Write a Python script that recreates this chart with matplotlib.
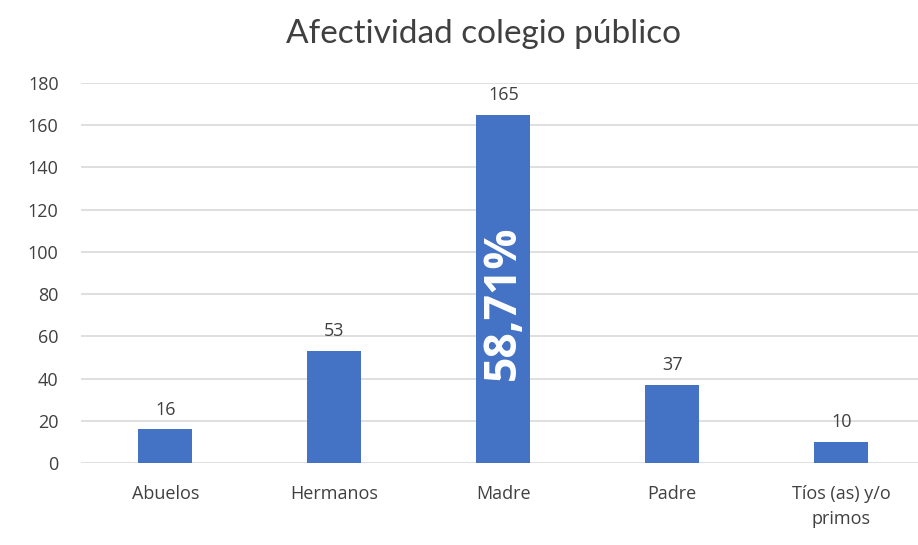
import matplotlib.pyplot as plt
import numpy as np

categories = ['Abuelos', 'Hermanos', 'Madre', 'Padre', 'Tíos (as) y/o\nprimos']
values = [16, 53, 165, 37, 10]
yticks = [0, 20, 40, 60, 80, 100, 120, 140, 160, 180]
madre_pct = '58,71%'

plt.rcParams['font.family'] = ['Open Sans', 'DejaVu Sans']

fig = plt.figure(figsize=(9.18, 5.45), dpi=100)
ax = fig.add_axes([0.088, 0.1505, 0.9205, 0.6975])

x = np.arange(len(categories))
bars = ax.bar(x, values, width=0.32, color='#4472C4', zorder=3)

# value labels on top of each bar
for b, v in zip(bars, values):
    ax.text(b.get_x() + b.get_width() / 2, v + 5, str(v),
            ha='center', va='bottom', fontsize=13, color='#404040')

# percentage written inside the Madre bar
ax.text(x[2], 76, madre_pct, rotation=90, ha='center', va='center',
        fontsize=32, fontweight='bold', color='white', zorder=4)

ax.set_xlim(-0.5, len(categories) - 0.5)
ax.set_ylim(0, 180)
ax.set_yticks(yticks)
ax.set_xticks(x)
ax.set_xticklabels(categories, fontsize=13, color='#404040', linespacing=1.5)
ax.tick_params(axis='y', labelsize=13, labelcolor='#404040', length=0, pad=16)
ax.tick_params(axis='x', length=0, pad=16)
ax.yaxis.grid(True, color='#D9D9D9', linewidth=1.2, zorder=0)
for s in ax.spines.values():
    s.set_visible(False)

fig.suptitle('Afectividad colegio público', fontsize=24, color='#404040',
             fontfamily='Lato', x=0.527, y=0.965)

fig.savefig('out.png', dpi=100)
